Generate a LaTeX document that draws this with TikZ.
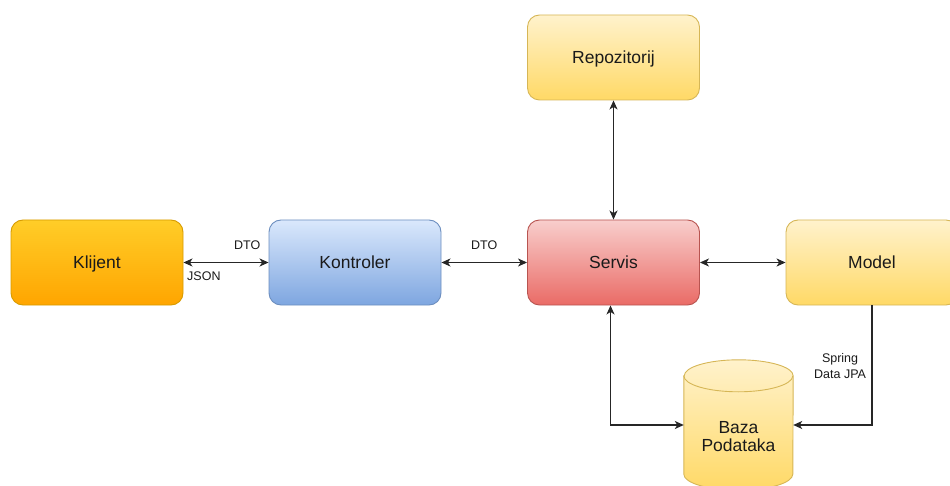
\documentclass[tikz,border=0pt]{standalone}
\usepackage{fontspec}
\setmainfont{Liberation Sans}
\usetikzlibrary{arrows.meta,calc}

\definecolor{orgtop}{HTML}{FFCD28}
\definecolor{orgbot}{HTML}{FFA500}
\definecolor{orgdraw}{HTML}{D79B00}
\definecolor{blutop}{HTML}{DAE8FC}
\definecolor{blubot}{HTML}{7EA6E0}
\definecolor{bludraw}{HTML}{6C8EBF}
\definecolor{redtop}{HTML}{F8CECC}
\definecolor{redbot}{HTML}{EA6B66}
\definecolor{reddraw}{HTML}{B85450}
\definecolor{ylwtop}{HTML}{FFF2CC}
\definecolor{ylwbot}{HTML}{FFD966}
\definecolor{ylwdraw}{HTML}{D6B656}
\definecolor{txtcol}{HTML}{1A1A1A}

\tikzset{
    box/.style={shape=rectangle, rounded corners=12pt, line width=0.9pt,
        minimum width=172pt, minimum height=85pt, text=txtcol,
        text height=12.5pt, text depth=0pt,
        font=\fontsize{17.5}{19}\selectfont},
    conn/.style={line width=1.3pt, black!85, {Stealth[length=9pt,width=8pt,inset=2.5pt]}-{Stealth[length=9pt,width=8pt,inset=2.5pt]}},
    lbl/.style={font=\fontsize{12.5}{16}\selectfont, text=txtcol, align=center}
}

\begin{document}
\begin{tikzpicture}[x=1pt, y=-1pt]
    	
    	\useasboundingbox (0,0) rectangle (950,486);
    	\clip (0,0) rectangle (950,486);
    	
    	\node[box, draw=orgdraw, top color=orgtop, bottom color=orgbot] (klijent)   at (97, 262.5)    {Klijent};
    	\node[box, draw=bludraw, top color=blutop, bottom color=blubot] (kontroler) at (355, 262.5)   {Kontroler};
    	\node[box, draw=reddraw, top color=redtop, bottom color=redbot] (servis)    at (613.5, 262.5) {Servis};
    	\node[box, draw=ylwdraw, top color=ylwtop, bottom color=ylwbot] (repo)      at (613.5, 57.5)  {Repozitorij};
    	\node[box, draw=ylwdraw, top color=ylwtop, bottom color=ylwbot] (model)     at (872, 262.5)   {Model};
    	
    	% baza podataka
    	\node[shape=rectangle, minimum width=109pt, minimum height=130pt, inner sep=0pt] (db) at (738.5, 425) {};
    	\draw[line width=0.9pt, ylwdraw, top color=ylwtop, bottom color=ylwbot]
    	    ($(db.north west)+(0,16)$) -- ($(db.south west)+(0,-16)$)
    	    arc[start angle=180, end angle=0, x radius=54.5, y radius=16]
    	    -- ($(db.north east)+(0,16)$)
    	    arc[start angle=0, end angle=-180, x radius=54.5, y radius=16] -- cycle;
    	\draw[line width=0.9pt, ylwdraw] ($(db.north west)+(0,16)$) arc[start angle=180, end angle=0, x radius=54.5, y radius=16];
    	\node[box, draw=none, minimum width=0pt, minimum height=0pt, text height=, text depth=] (dbtext) at ($(db)+(0,14)$) {\begin{tabular}{c}Baza\\[-1pt]Podataka\end{tabular}};
    	
    	\path[conn] (klijent) edge node[lbl, pos=0.75, above=9pt]{DTO} node[lbl, pos=0.24, below=5pt]{JSON} (kontroler);
    	\path[conn] (kontroler) edge node[lbl, pos=0.5, above=9pt]{DTO} (servis);
    	\path[conn] (servis) edge (model);
    	\path[conn] (repo) edge (servis);
    	\draw[conn] ($(servis.south)+(-3,0)$) |- (db.west);
    	\draw[conn, {Stealth[length=9pt,width=8pt,inset=2.5pt]}-] (db.east) -| node[lbl, pos=0.74, left=2pt, yshift=2pt]{Spring\\Data JPA} (model.south);
    	
\end{tikzpicture}
\end{document}
